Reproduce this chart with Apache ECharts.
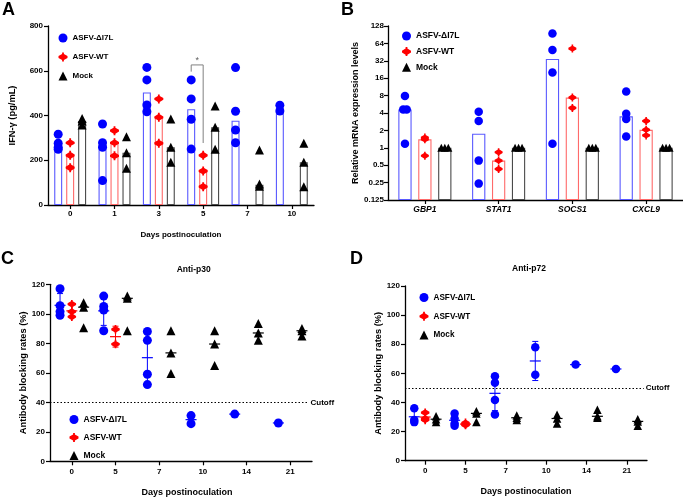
<!DOCTYPE html>
<html><head><meta charset="utf-8">
<script src="https://cdn.jsdelivr.net/npm/echarts@6/dist/echarts.min.js"></script>
<style>html,body{margin:0;padding:0;background:#fff}#c{width:683px;height:499px}</style>
</head><body><div id="c"></div>
<script>
// ---------------- DATA ----------------
const GROUPS = ['ASFV-ΔI7L', 'ASFV-WT', 'Mock'];

// Panel A: IFN-γ (pg/mL)
const A_days = ['0', '1', '3', '5', '7', '10'];
const A_yTicks = [0, 200, 400, 600, 800];
const A_dI7L_pts = [[316, 276, 258, 249], [362, 278, 258, 109], [615, 559, 447, 417], [559, 474, 383, 250], [614, 419, 335, 278], [446, 420]];
const A_WT_pts = [[278, 222, 167], [332, 278, 220], [474, 392, 276], [222, 152, 82], [], []];
const A_mock_pts = [[387, 375, 357], [305, 234, 164], [384, 258, 191], [442, 347, 249], [246, 94, 84], [276, 191, 82]];
const A_dI7L_bar = [264, 268, 503, 428, 377, 433];
const A_WT_bar = [222, 278, 392, 149, null, null];
const A_mock_bar = [375, 234, 258, 347, 90, 191];
const A_sigLevels = [596, 626, 277]; // bracket: left foot, top, right foot

// Panel B: relative mRNA expression
const B_genes = ['GBP1', 'STAT1', 'SOCS1', 'CXCL9'];
const B_yTicks = [0.125, 0.25, 0.5, 1, 2, 4, 8, 16, 32, 64, 128];
const B_dI7L_pts = [[7.9, 4.6, 4.6, 1.17], [4.2, 2.9, 0.6, 0.24], [95, 49, 20, 1.17], [9.4, 3.9, 3.15, 1.57]];
const B_WT_pts = [[1.5, 1.4, 0.73], [0.84, 0.6, 0.43], [52, 7.4, 4.9], [2.9, 2.05, 1.64]];
const B_mock_pts = [[1, 1, 1], [1, 1, 1], [1, 1, 1], [1, 1, 1]];
const B_dI7L_bar = [4.6, 1.75, 34.5, 3.5];
const B_WT_bar = [1.4, 0.6, 7.4, 2.05];
const B_mock_bar = [1, 1, 1, 1];

// Panel C: Anti-p30
const C_days = ['0', '5', '7', '10', '14', '21'];
const C_yTicks = [0, 20, 40, 60, 80, 100, 120];
const C_dI7L = [[117, 105.5, 101.5, 99], [112, 105, 102.5, 88.5], [88, 82, 59, 52], [31, 25.5], [32], [26]];
const C_WT = [[106.5, 101.5, 98], [89.5, 79.5], [], [], [], []];
const C_mock = [[107.5, 104.5, 90.5], [112, 110.5, 88.5], [88.5, 73.5, 59.5], [88.5, 79.5, 65], [93.5, 87, 82], [90, 88.5, 85]];
const C_cutoff = [40];

// Panel D: Anti-p72
const D_days = ['0', '5', '7', '10', '14', '21'];
const D_yTicks = [0, 20, 40, 60, 80, 100, 120];
const D_dI7L = [[36, 28, 26.5], [32.5, 29, 25.6, 24], [58, 53.6, 41.7, 31.8], [78, 59], [66], [63]];
const D_WT = [[33, 29, 28], [26, 25, 24.5], [], [], [], []];
const D_mock = [[30.5, 28.5, 26.5], [34, 32.5, 26.5], [31, 29.5, 28], [31.5, 29, 25.5], [35, 30.5, 29.5], [28.5, 27, 24]];
const D_cutoff = [50];

// ---------------- STYLE ----------------
const FONT = '"Liberation Sans", Arial, Helvetica, sans-serif';
const COLORS = ['#0000ff', '#ff0000', '#000000'];
const BAR_BORDERS = ['#5a5aff', '#ff6a6a', '#4a4a4a'];
const SYMBOLS = ['circle', 'path://M4,0 L6,0 L6,1.6 L10,4 L10,6 L6,8.4 L6,10 L4,10 L4,8.4 L0,6 L0,4 L4,1.6 Z', 'triangle'];
const OFF = 0.27; // slot offset within a category band (fraction of band)

function mean(a) { return a.reduce((s, v) => s + v, 0) / a.length; }
function median(a) { const s = a.slice().sort((x, y) => x - y); const n = s.length; return n % 2 ? s[(n - 1) / 2] : (s[n / 2 - 1] + s[n / 2]) / 2; }
function sd(a) { if (a.length < 2) return 0; const m = mean(a); return Math.sqrt(a.reduce((s, v) => s + (v - m) * (v - m), 0) / (a.length - 1)); }
function slotX(i, slot) { return i + 0.5 + (slot - 1) * OFF; }

function pts(groups, slot) {
  const out = [];
  groups.forEach((arr, i) => {
    const seen = {};
    arr.forEach(v => {
      const n = arr.filter(u => u === v).length;
      const k = (seen[v] = (seen[v] || 0) + 1) - 1;
      const item = { value: [slotX(i, slot), v] };
      if (n > 1) item.symbolOffset = [(k - (n - 1) / 2) * 3.5, 0];
      out.push(item);
    });
  });
  return out;
}

function scatter(xi, yi, groups, slot, size) {
  return {
    type: 'scatter', name: GROUPS[slot], xAxisIndex: xi, yAxisIndex: yi,
    symbol: SYMBOLS[slot], symbolSize: size, itemStyle: { color: COLORS[slot], opacity: 1 },
    data: pts(groups, slot), z: 4, silent: true
  };
}

function bars(xi, yi, vals, slot) {
  return {
    type: 'bar', name: 'bar ' + GROUPS[slot], xAxisIndex: xi, yAxisIndex: yi,
    data: vals.map(v => v == null ? '-' : v), barWidth: '18%', barGap: '50%',
    itemStyle: { color: 'rgba(255,255,255,0)', borderColor: BAR_BORDERS[slot], borderWidth: 1.1 },
    silent: true, z: 2
  };
}

// mean ± SD (blue, red) or median line only (mock)
function errs(xi, yi, groups, slot, showSD) {
  const color = COLORS[slot];
  const data = [];
  groups.forEach((arr, i) => {
    if (arr.length) data.push([slotX(i, slot), showSD ? mean(arr) : median(arr), showSD ? sd(arr) : 0]);
  });
  return {
    type: 'custom', xAxisIndex: xi, yAxisIndex: yi, silent: true, z: 5,
    encode: { x: 0, y: 1 }, data,
    renderItem(params, api) {
      const x = api.value(0), m = api.value(1), s = api.value(2);
      const c = api.coord([x, m]);
      const st = { stroke: color, lineWidth: 1.2 };
      const ch = [{ type: 'line', shape: { x1: c[0] - 5.5, y1: c[1], x2: c[0] + 5.5, y2: c[1] }, style: st }];
      if (showSD && s > 0) {
        const t = api.coord([x, m + s]), b = api.coord([x, m - s]);
        ch.push({ type: 'line', shape: { x1: c[0], y1: t[1], x2: c[0], y2: b[1] }, style: { stroke: color, lineWidth: 1 } });
        ch.push({ type: 'line', shape: { x1: c[0] - 3, y1: t[1], x2: c[0] + 3, y2: t[1] }, style: { stroke: color, lineWidth: 1 } });
        ch.push({ type: 'line', shape: { x1: c[0] - 3, y1: b[1], x2: c[0] + 3, y2: b[1] }, style: { stroke: color, lineWidth: 1 } });
      }
      return { type: 'group', children: ch };
    }
  };
}

const axLine = { show: true, lineStyle: { color: '#000', width: 1.3 } };
const axTick = { show: true, length: 4, lineStyle: { color: '#000', width: 1.2 } };
const lbl = (extra) => Object.assign({ fontFamily: FONT, fontSize: 8, fontWeight: 'bold', color: '#000' }, extra || {});

function catAxis(grid, cats, name, gap, labelExtra, nameExtra) {
  return {
    gridIndex: grid, type: 'category', data: cats, boundaryGap: true,
    axisLine: axLine, axisTick: Object.assign({ alignWithLabel: true }, axTick),
    axisLabel: lbl(labelExtra),
    name: name, nameLocation: 'middle', nameGap: gap,
    nameTextStyle: lbl(Object.assign({ fontSize: 8 }, nameExtra || {})),
    splitLine: { show: false }
  };
}
function hiddenX(grid, n) { return { gridIndex: grid, type: 'value', min: 0, max: n, show: false }; }
function valAxis(grid, ticks, name, gap, margin) {
  return {
    gridIndex: grid, type: 'value', min: ticks[0], max: ticks[ticks.length - 1], interval: ticks[1] - ticks[0],
    axisLine: axLine, axisTick: axTick, axisLabel: lbl({ margin: margin }),
    splitLine: { show: false },
    name: name, nameLocation: 'middle', nameGap: gap, nameTextStyle: lbl({ fontSize: 9.3 })
  };
}

function legend(left, top, gap, fs) {
  return {
    orient: 'vertical', left, top, itemGap: gap, itemWidth: 9, itemHeight: 9, selectedMode: false,
    textStyle: lbl({ fontSize: fs }),
    data: GROUPS.map((g, i) => ({ name: g, icon: SYMBOLS[i] }))
  };
}

function cutoffLine(val, xEnd) {
  return {
    silent: true, symbol: ['none', 'none'],
    lineStyle: { type: [1.5, 2], color: '#000', width: 1 },
    label: { show: true, position: 'end', formatter: 'Cutoff', distance: 2, fontFamily: FONT, fontSize: 8, fontWeight: 'bold', color: '#000' },
    data: [[{ coord: [0, val] }, { coord: [xEnd, val] }]]
  };
}

// ---------------- OPTION ----------------
const sigL = slotX(3, 0), sigR = slotX(3, 1);

const scC = scatter(5, 2, C_dI7L, 0, 9);
scC.markLine = cutoffLine(C_cutoff[0], 5.92);
const scD = scatter(7, 3, D_dI7L, 0, 8.5);
scD.markLine = cutoffLine(D_cutoff[0], 5.92);

const option = {
  animation: false,
  backgroundColor: '#fff',
  grid: [
    { left: 48, top: 26, width: 266, height: 179 },
    { left: 388, top: 26, width: 296, height: 174 },
    { left: 50, top: 284.3, width: 262, height: 177 },
    { left: 405, top: 286, width: 242, height: 174.7 }
  ],
  xAxis: [
    catAxis(0, A_days, 'Days postinoculation', 26, { margin: 5 }),
    hiddenX(0, A_days.length),
    catAxis(1, B_genes, '', 20, { margin: 5, fontStyle: 'italic', fontSize: 8.5 }),
    hiddenX(1, B_genes.length),
    catAxis(2, C_days, 'Days postinoculation', 27, { margin: 6 }, { fontSize: 9, padding: [0, 0, 0, 12] }),
    hiddenX(2, C_days.length),
    catAxis(3, D_days, 'Days postinoculation', 26, { margin: 6 }, { fontSize: 9 }),
    hiddenX(3, D_days.length)
  ],
  yAxis: [
    valAxis(0, A_yTicks, 'IFN-γ (pg/mL)', 31, 5),
    {
      gridIndex: 1, type: 'log', logBase: 2, min: B_yTicks[0], max: B_yTicks[B_yTicks.length - 1],
      splitNumber: B_yTicks.length - 1, startValue: B_yTicks[0],
      axisLine: axLine,
      axisTick: Object.assign({ customValues: B_yTicks }, axTick),
      axisLabel: lbl({ margin: 4, customValues: B_yTicks, formatter: v => String(+(+v).toPrecision(6)) }),
      splitLine: { show: false },
      name: 'Relative mRNA expression levels', nameLocation: 'middle', nameGap: 28, nameTextStyle: lbl({ fontSize: 9 })
    },
    valAxis(2, C_yTicks, 'Antibody blocking rates (%)', 19, 5),
    valAxis(3, D_yTicks, 'Antibody blocking rates (%)', 20, 5)
  ],
  legend: [
    legend(53.5, 28.5, 10, 8),
    legend(397, 26.5, 6.6, 8.5),
    legend(64.5, 410, 9, 8.5),
    legend(414.5, 288, 9.8, 8.2)
  ],
  graphic: [
    { type: 'text', x: 2, y: 1, style: { text: 'A', font: 'bold 18px ' + FONT, fill: '#000' } },
    { type: 'text', x: 341, y: 1, style: { text: 'B', font: 'bold 18px ' + FONT, fill: '#000' } },
    { type: 'text', x: 1, y: 250, style: { text: 'C', font: 'bold 18px ' + FONT, fill: '#000' } },
    { type: 'text', x: 350, y: 250, style: { text: 'D', font: 'bold 18px ' + FONT, fill: '#000' } },
    { type: 'text', x: 193.7, y: 269.3, style: { text: 'Anti-p30', font: 'bold 8.5px ' + FONT, fill: '#000', align: 'center', verticalAlign: 'middle' } },
    { type: 'text', x: 529, y: 269, style: { text: 'Anti-p72', font: 'bold 8.5px ' + FONT, fill: '#000', align: 'center', verticalAlign: 'middle' } }
  ],
  series: [
    // A
    bars(0, 0, A_dI7L_bar, 0), bars(0, 0, A_WT_bar, 1), bars(0, 0, A_mock_bar, 2),
    scatter(1, 0, A_dI7L_pts, 0, 9), scatter(1, 0, A_WT_pts, 1, 9), scatter(1, 0, A_mock_pts, 2, 9),
    {
      type: 'line', xAxisIndex: 1, yAxisIndex: 0, silent: true, symbol: 'none', z: 3,
      lineStyle: { color: '#808080', width: 1 },
      data: [[sigL, A_sigLevels[0]], [sigL, A_sigLevels[1]], [sigR, A_sigLevels[1]], [sigR, A_sigLevels[2]]]
    },
    {
      type: 'scatter', xAxisIndex: 1, yAxisIndex: 0, silent: true, symbolSize: 0,
      data: [[(sigL + sigR) / 2, A_sigLevels[1]]],
      label: { show: true, position: 'top', distance: 0, formatter: '*', fontFamily: FONT, fontSize: 9, color: '#333' }
    },
    // B
    bars(2, 1, B_dI7L_bar, 0), bars(2, 1, B_WT_bar, 1), bars(2, 1, B_mock_bar, 2),
    scatter(3, 1, B_dI7L_pts, 0, 8.5), scatter(3, 1, B_WT_pts, 1, 8), scatter(3, 1, B_mock_pts, 2, 8),
    // C
    scC, scatter(5, 2, C_WT, 1, 8.5), scatter(5, 2, C_mock, 2, 9),
    errs(5, 2, C_dI7L, 0, true), errs(5, 2, C_WT, 1, true), errs(5, 2, C_mock, 2, false),
    // D
    scD, scatter(7, 3, D_WT, 1, 8.5), scatter(7, 3, D_mock, 2, 8.5),
    errs(7, 3, D_dI7L, 0, true), errs(7, 3, D_WT, 1, true), errs(7, 3, D_mock, 2, false)
  ]
};

const chart = echarts.init(document.getElementById('c'), null, { renderer: 'canvas' });
chart.setOption(option);
</script>
</body></html>
